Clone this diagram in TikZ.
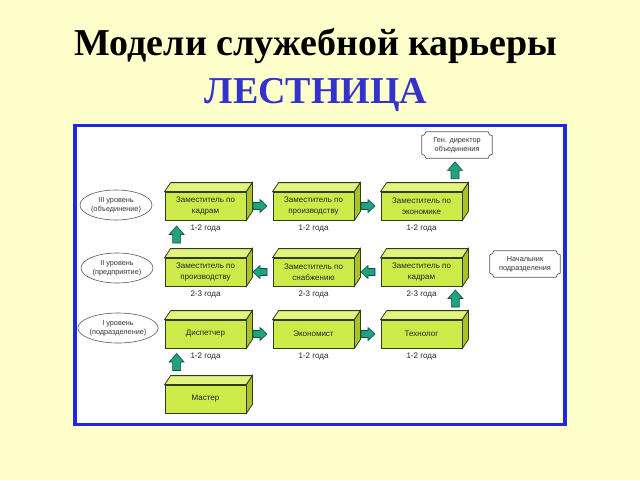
\documentclass[tikz,border=0pt]{standalone}
\usepackage{fontspec}
\setmainfont{Liberation Serif}
\newfontfamily\sansf{Liberation Sans}
\usetikzlibrary{shapes.geometric,calc}
\definecolor{bgyellow}{RGB}{255,255,204}
\definecolor{frameblue}{RGB}{30,40,225}
\definecolor{titleblue}{RGB}{51,51,204}
\definecolor{frontc}{RGB}{206,234,72}
\definecolor{topc}{RGB}{226,244,128}
\definecolor{sidec}{RGB}{168,194,40}
\definecolor{arrowc}{RGB}{32,162,130}
\definecolor{arrowdk}{RGB}{20,80,60}
\definecolor{edgec}{RGB}{50,60,25}
\newcommand{\cubebox}[4]{%
  \node[cubefront] (#1) at (#2,#3) {#4};
  \filldraw[cubetop] (#1.north west) -- ([shift={(6,-9)}]#1.north west) -- ([shift={(6,-9)}]#1.north east) -- (#1.north east) -- cycle;
  \filldraw[cubeside] (#1.north east) -- ([shift={(6,-9)}]#1.north east) -- ([shift={(6,-9)}]#1.south east) -- (#1.south east) -- cycle;
}
\newcommand{\plaque}[1]{%
  \draw[plaqueline] ([shift={(4,0)}]#1.north west) -- ([shift={(-4,0)}]#1.north east)
    arc[start angle=180, end angle=90, radius=4]
    -- ([shift={(0,-4)}]#1.south east)
    arc[start angle=270, end angle=180, radius=4]
    -- ([shift={(4,0)}]#1.south west)
    arc[start angle=0, end angle=-90, radius=4]
    -- ([shift={(0,4)}]#1.north west)
    arc[start angle=90, end angle=0, radius=4];
}
% horizontal block arrow at coordinate #1, #2 = 1 (right) or -1 (left)
\newcommand{\harrow}[2]{%
  \filldraw[blockarrow, shift=(#1), xscale=#2] (-7,-3.5) -- (0,-3.5) -- (0,-6.5) -- (7,0) -- (0,6.5) -- (0,3.5) -- (-7,3.5) -- cycle;
}
% upward block arrow at coordinate #1
\newcommand{\uparrowblk}[1]{%
  \filldraw[blockarrow, shift=(#1)] (-4,8.5) -- (-4,0) -- (-7.5,0) -- (0,-8.5) -- (7.5,0) -- (4,0) -- (4,8.5) -- cycle;
}
\begin{document}
\begin{tikzpicture}[x=1pt,y=-1pt,
  cubefront/.style={draw=edgec, line width=0.8pt, fill=frontc, minimum width=81pt, minimum height=28pt, inner sep=0pt, align=center, font=\sansf\fontsize{8}{11.5}\selectfont, text=black!85},
  cubetop/.style={draw=edgec, line width=0.8pt, fill=topc},
  cubeside/.style={draw=edgec, line width=0.8pt, fill=sidec},
  blockarrow/.style={draw=arrowdk, fill=arrowc, line width=0.6pt, line join=miter},
  lbl/.style={font=\sansf\fontsize{8}{9}\selectfont, text=black!85, inner sep=0pt},
  lvl/.style={ellipse, draw=black!65, line width=0.6pt, fill=white, minimum width=72pt, minimum height=30pt, inner sep=0pt, align=center, font=\sansf\fontsize{7.3}{9}\selectfont, text=black!80},
  plaquetext/.style={minimum width=70pt, minimum height=26pt, inner sep=0pt, align=center, font=\sansf\fontsize{7.3}{9.5}\selectfont, text=black!80},
  plaqueline/.style={draw=black!65, line width=0.7pt},
  title/.style={font=\fontsize{38}{44}\selectfont\bfseries, inner sep=0pt, anchor=base}
]
\fill[bgyellow] (0,0) rectangle (640,480);
\useasboundingbox (0,0) rectangle (640,480);

\node[title, text=black] (t1) at (316,55) {Модели служебной карьеры};
\node[title, text=titleblue] (t2) at (316,103) {ЛЕСТНИЦА};

\draw[frameblue, line width=3.5pt, fill=white] (75,125.5) rectangle (565,424.5);

% row 1
\cubebox{b11}{205.5}{206}{Заместитель по\\кадрам}
\cubebox{b12}{313.5}{206}{Заместитель по\\производству}
\cubebox{b13}{421.5}{206}{Заместитель по\\экономике}
% row 2
\cubebox{b21}{205.5}{272}{Заместитель по\\производству}
\cubebox{b22}{313.5}{272}{Заместитель по\\снабжению}
\cubebox{b23}{421.5}{272}{Заместитель по\\кадрам}
% row 3
\cubebox{b31}{205.5}{334}{Диспетчер}
\cubebox{b32}{313.5}{334}{Экономист}
\cubebox{b33}{421.5}{334}{Технолог}
% master
\cubebox{b41}{205.5}{399}{Мастер}

% labels
\node[lbl] (l11) at ($(b11.south)+(0,8)$) {1-2 года};
\node[lbl] (l12) at ($(b12.south)+(0,8)$) {1-2 года};
\node[lbl] (l13) at ($(b13.south)+(0,8)$) {1-2 года};
\node[lbl] (l21) at ($(b21.south)+(0,8)$) {2-3 года};
\node[lbl] (l22) at ($(b22.south)+(0,8)$) {2-3 года};
\node[lbl] (l23) at ($(b23.south)+(0,8)$) {2-3 года};
\node[lbl] (l31) at ($(b31.south)+(0,8)$) {1-2 года};
\node[lbl] (l32) at ($(b32.south)+(0,8)$) {1-2 года};
\node[lbl] (l33) at ($(b33.south)+(0,8)$) {1-2 года};

% level ellipses
\node[lvl] (e3) at (116,205) {III уровень\\(объединение)};
\node[lvl] (e2) at (117,268) {II уровень\\(предприятие)};
\node[lvl] (e1) at (118,328) {I уровень\\(подразделение)};

% plaques
\node[plaquetext] (gen) at (457,145) {Ген. директор\\объединения};
\plaque{gen}
\node[plaquetext] (nach) at (525,264) {Начальник\\подразделения};
\plaque{nach}

% arrow positions
\coordinate (a1a) at ($(b11.east)!0.5!(b12.west)+(0.5,0)$);
\coordinate (a1b) at ($(b12.east)!0.5!(b13.west)+(0.5,0)$);
\coordinate (a2a) at ($(b21.east)!0.5!(b22.west)+(0.5,0)$);
\coordinate (a2b) at ($(b22.east)!0.5!(b23.west)+(0.5,0)$);
\coordinate (a3a) at ($(b31.east)!0.5!(b32.west)+(0.5,0)$);
\coordinate (a3b) at ($(b32.east)!0.5!(b33.west)+(0.5,0)$);
\coordinate (u21) at ($(b11.south west)!0.5!(b21.north west)+(12,-4.5)$);
\coordinate (u32) at ($(b23.south east)!0.5!(b33.north east)+(-7,-4.5)$);
\coordinate (ugen) at ($(gen.south)!0.5!(gen.south|-b13.north)+(-2,-4.5)$);
\coordinate (u4) at ($(b31.south west)!0.5!(b41.north west)+(12,-4.5)$);

\harrow{a1a}{1}
\harrow{a1b}{1}
\harrow{a2a}{-1}
\harrow{a2b}{-1}
\harrow{a3a}{1}
\harrow{a3b}{1}
\uparrowblk{u21}
\uparrowblk{u32}
\uparrowblk{ugen}
\uparrowblk{u4}
\end{tikzpicture}
\end{document}
